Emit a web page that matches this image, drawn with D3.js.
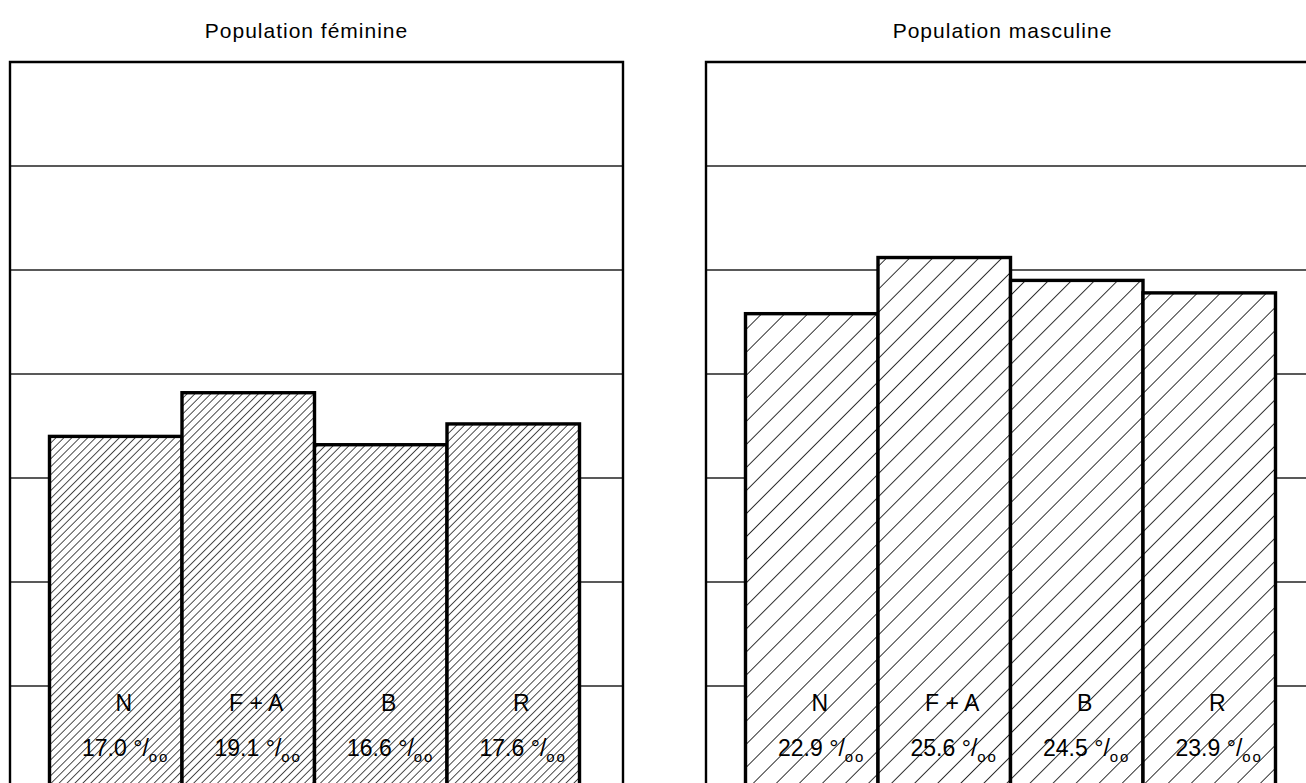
<!DOCTYPE html>
<html>
<head>
<meta charset="utf-8" />
<title>Population féminine / masculine</title>
<script src="https://d3js.org/d3.v7.min.js"></script>
<style>
  body { margin: 0; background: #fff; }
  svg { display: block; font-family: "Liberation Sans", Arial, sans-serif; }
</style>
</head>
<body>
<script>
  const categories = ["N", "F+A", "B", "R"];
  const labels = ["N", "F + A", "B", "R"];
  const feminine = [17.0, 19.1, 16.6, 17.6];
  const masculine = [22.9, 25.6, 24.5, 23.9];
  const gridTicks = [5, 10, 15, 20, 25, 30];
  const titles = ["Population féminine", "Population masculine"];

  const width = 1306, height = 783;
  const frameW = 613;

  const svg = d3.select("body").append("svg")
    .attr("width", width)
    .attr("height", height);

  const defs = svg.append("defs");
  // dense hatch for the left panel, wide hatch for the right one
  const hatch = (id, gap, sw) => {
    const p = defs.append("pattern")
      .attr("id", id)
      .attr("patternUnits", "userSpaceOnUse")
      .attr("width", gap)
      .attr("height", gap)
      .attr("patternTransform", "rotate(45)");
    p.append("rect").attr("width", gap).attr("height", gap).attr("fill", "#fff");
    p.append("line")
      .attr("x1", 0).attr("y1", 0)
      .attr("x2", 0).attr("y2", gap)
      .attr("stroke", "#000")
      .attr("stroke-width", sw);
  };
  hatch("hatchF", 5.6, 1.4);
  hatch("hatchM", 16.3, 1.6);

  const y = d3.scaleLinear().domain([0, 35]).range([790, 62]);

  const panels = [
    { x0: 10, values: feminine, fill: "url(#hatchF)", title: titles[0] },
    { x0: 706, values: masculine, fill: "url(#hatchM)", title: titles[1] }
  ];

  panels.forEach((pn) => {
    const g = svg.append("g").attr("transform", `translate(${pn.x0},0)`);

    const x = d3.scaleBand()
      .domain(categories)
      .range([39.5, 569.5])
      .paddingInner(0);

    g.append("text")
      .attr("x", frameW / 2 - 10)
      .attr("y", 38)
      .attr("text-anchor", "middle")
      .attr("font-size", 21)
      .attr("letter-spacing", 1)
      .attr("fill", "#000")
      .text(pn.title);

    // grid lines
    g.append("g")
      .selectAll("line")
      .data(gridTicks)
      .join("line")
      .attr("x1", 0)
      .attr("x2", frameW)
      .attr("y1", (d) => y(d))
      .attr("y2", (d) => y(d))
      .attr("stroke", "#222")
      .attr("stroke-width", 1.5);

    // frame
    g.append("path")
      .attr("d", `M0,${height + 10}V${y(35)}H${frameW}V${height + 10}`)
      .attr("fill", "none")
      .attr("stroke", "#000")
      .attr("stroke-width", 2.4);

    const data = categories.map((c, i) => ({ c, v: pn.values[i], label: labels[i] }));

    g.append("g")
      .selectAll("rect")
      .data(data)
      .join("rect")
      .attr("x", (d) => x(d.c))
      .attr("width", x.bandwidth())
      .attr("y", (d) => y(d.v))
      .attr("height", (d) => y(0) - y(d.v) + 10)
      .attr("fill", pn.fill)
      .attr("stroke", "#000")
      .attr("stroke-width", 3.4);

    const lab = g.append("g")
      .attr("font-size", 23)
      .attr("fill", "#000")
      .attr("text-anchor", "middle");

    lab.selectAll("text.cat")
      .data(data)
      .join("text")
      .attr("class", "cat")
      .attr("x", (d) => x(d.c) + x.bandwidth() / 2 + 8)
      .attr("y", 711)
      .text((d) => d.label);

    const vt = lab.selectAll("text.val")
      .data(data)
      .join("text")
      .attr("class", "val")
      .attr("x", (d) => x(d.c) + x.bandwidth() / 2 + 10)
      .attr("y", 756);
    vt.append("tspan").text((d) => d.v.toFixed(1) + " °/");
    vt.append("tspan")
      .attr("font-size", 15)
      .attr("dy", 6)
      .attr("letter-spacing", 2)
      .text("oo");
  });
</script>
</body>
</html>
